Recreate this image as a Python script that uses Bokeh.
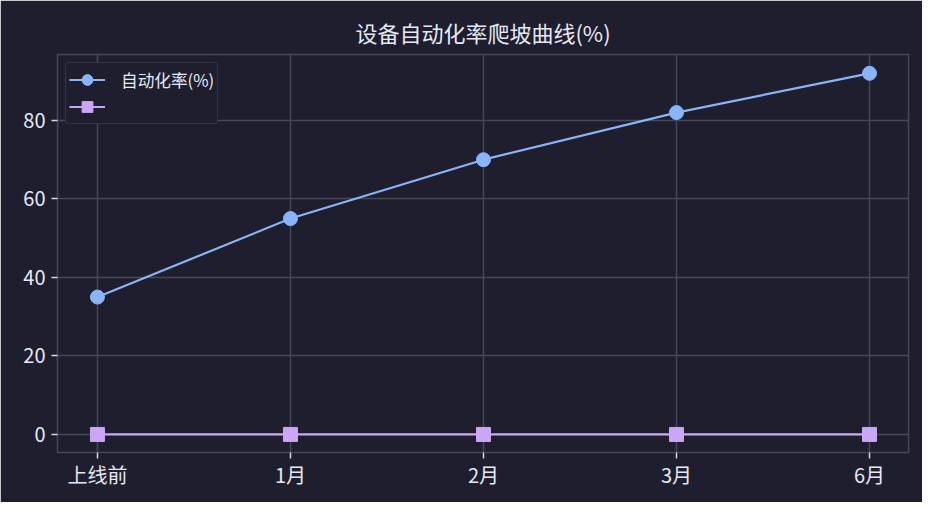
from bokeh.plotting import figure
from bokeh.models import FixedTicker, Legend, LegendItem, Range1d
from bokeh.embed import file_html
from bokeh.resources import INLINE

categories = ["上线前", "1月", "2月", "3月", "6月"]
auto_rate = [35, 55, 70, 82, 92]
second = [0, 0, 0, 0, 0]
y_ticks = [0, 20, 40, 60, 80]

BG = "#1e1e2e"
GRID = "#45475a"
TXT = "#e6e9f5"
FONT = "Noto Sans CJK SC"

x = list(range(len(categories)))

p = figure(width=922, height=502, output_backend="svg", toolbar_location=None,
           x_range=Range1d(-0.207, 4.202), y_range=Range1d(-4.6, 96.8),
           min_border_left=57, min_border_top=54, min_border_right=14, min_border_bottom=50,
           background_fill_color=BG, border_fill_color=BG)
p.outline_line_color = GRID
p.outline_line_width = 1.5

p.title.text = "设备自动化率爬坡曲线(%)"
p.title.align = "center"
p.title.text_color = TXT
p.title.text_font = FONT
p.title.text_font_size = "16.5pt"
p.title.text_font_style = "normal"
p.title.standoff = 13

for ax in (p.xaxis, p.yaxis):
    ax.axis_line_color = None
    ax.major_tick_line_color = "#cdd6f4"
    ax.major_tick_line_width = 1.5
    ax.major_tick_in = 0
    ax.major_tick_out = 6
    ax.minor_tick_line_color = None
    ax.major_label_text_color = TXT
    ax.major_label_text_font = FONT
    ax.major_label_text_font_size = "15pt"

p.xaxis.major_label_standoff = 1
p.yaxis.major_label_standoff = 6

p.xaxis.ticker = FixedTicker(ticks=x)
p.xaxis.major_label_overrides = {i: c for i, c in enumerate(categories)}
p.yaxis.ticker = FixedTicker(ticks=y_ticks)

p.xgrid.ticker = FixedTicker(ticks=x)
p.grid.grid_line_color = GRID
p.grid.grid_line_width = 1.5

l1 = p.line(x, auto_rate, line_color="#89b4fa", line_width=2.2)
m1 = p.scatter(x, auto_rate, marker="circle", size=14, fill_color="#89b4fa", line_color="#89b4fa")
l2 = p.line(x, second, line_color="#cba6f7", line_width=2.2)
m2 = p.scatter(x, second, marker="square", size=14, fill_color="#cba6f7", line_color="#cba6f7")

legend = Legend(items=[LegendItem(label="自动化率(%)", renderers=[l1, m1]),
                       LegendItem(label=" ", renderers=[l2, m2])],
                location="top_left")
legend.background_fill_color = BG
legend.background_fill_alpha = 1
legend.border_line_color = GRID
legend.border_line_width = 1.5
legend.border_radius = 4
legend.label_text_color = TXT
legend.label_text_font = FONT
legend.label_text_font_size = "12.5pt"
legend.glyph_width = 36
legend.glyph_height = 27
legend.label_height = 22
legend.spacing = 0
legend.padding = 3
legend.margin = 8
legend.label_standoff = 16
p.add_layout(legend)

open("out.html", "w").write(file_html(p, INLINE))
